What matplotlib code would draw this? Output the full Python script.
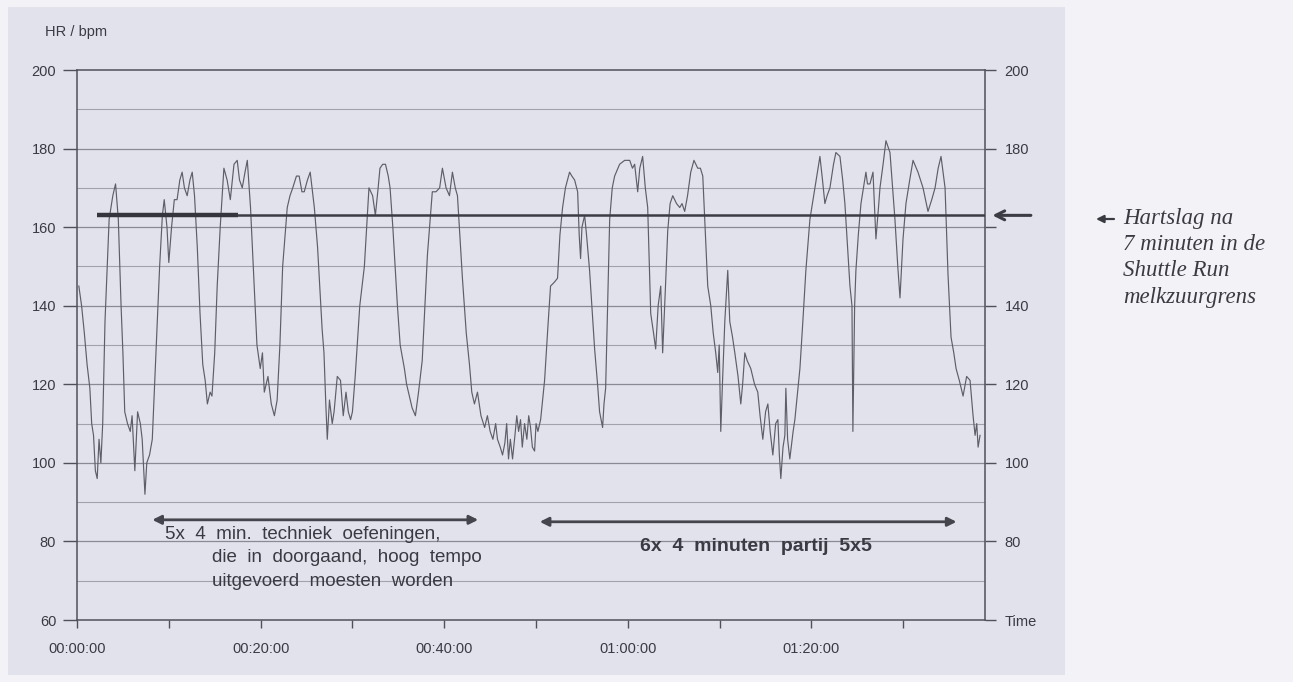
import matplotlib
matplotlib.use("Agg")
import matplotlib.pyplot as plt
from matplotlib.patches import Rectangle, FancyArrowPatch

plt.rcParams['font.family'] = ['Liberation Sans', 'DejaVu Sans']

# heart rate trace (minutes since start, bpm)
minutes = [0.2, 0.5, 0.8, 1.1, 1.4, 1.6, 1.8, 2.0, 2.2, 2.4, 2.6, 2.8, 3.05, 3.5, 3.9, 4.2, 4.5, 4.8, 5.0, 5.2,
           5.5, 5.8, 6.0, 6.3, 6.6, 6.9, 7.1, 7.4, 7.6, 7.9, 8.2, 8.6, 9.0, 9.3, 9.5, 9.8, 10.0, 10.3, 10.6, 10.9,
           11.2, 11.45, 11.7, 12.0, 12.3, 12.55, 12.8, 13.1, 13.4, 13.7, 13.96, 14.2, 14.5, 14.7, 15.0, 15.27, 15.6, 16.0, 16.35, 16.7,
           17.1, 17.45, 17.7, 18.0, 18.3, 18.55, 18.9, 19.3, 19.6, 19.96, 20.2, 20.4, 20.8, 21.16, 21.5, 21.8, 22.1, 22.4, 22.9, 23.2,
           23.5, 23.9, 24.2, 24.5, 24.75, 25.1, 25.4, 25.85, 26.2, 26.7, 26.9, 27.1, 27.26, 27.5, 27.8, 28.0, 28.35, 28.7, 29.0, 29.3,
           29.55, 29.8, 30.0, 30.3, 30.8, 31.3, 31.8, 32.2, 32.5, 32.8, 33.0, 33.3, 33.6, 33.9, 34.1, 34.4, 34.9, 35.2, 35.66, 35.9,
           36.2, 36.5, 36.86, 37.2, 37.6, 38.17, 38.7, 39.1, 39.5, 39.8, 40.2, 40.57, 40.89, 41.2, 41.44, 41.98, 42.4, 42.75, 43.0, 43.29,
           43.62, 44.0, 44.4, 44.7, 45.0, 45.3, 45.6, 45.8, 46.1, 46.35, 46.6, 46.8, 47.0, 47.2, 47.44, 47.7, 47.9, 48.1, 48.31, 48.5,
           48.75, 49.0, 49.2, 49.4, 49.6, 49.84, 50.0, 50.2, 50.5, 50.93, 51.3, 51.58, 52.0, 52.34, 52.6, 52.89, 53.2, 53.65, 53.9, 54.2,
           54.53, 54.7, 54.85, 55.0, 55.29, 55.5, 55.83, 56.38, 56.7, 56.92, 57.25, 57.4, 57.58, 57.8, 58.02, 58.3, 58.56, 59.1, 59.65, 60.2,
           60.5, 60.74, 61.07, 61.3, 61.61, 61.9, 62.16, 62.49, 62.8, 63.03, 63.3, 63.58, 63.79, 64.1, 64.34, 64.6, 64.89, 65.3, 65.65, 65.9,
           66.19, 66.5, 66.85, 67.2, 67.61, 67.9, 68.16, 68.5, 68.7, 69.03, 69.3, 69.57, 69.79, 69.95, 70.12, 70.3, 70.56, 70.88, 71.1, 71.4,
           71.65, 72.0, 72.3, 72.5, 72.74, 73.0, 73.39, 73.8, 74.15, 74.4, 74.7, 75.0, 75.25, 75.5, 75.79, 76.1, 76.34, 76.5, 76.66, 76.9,
           77.1, 77.21, 77.4, 77.64, 78.0, 78.19, 78.74, 79.06, 79.39, 79.83, 80.37, 80.92, 81.2, 81.46, 81.7, 82.01, 82.4, 82.66, 83.1, 83.4,
           83.64, 84.19, 84.41, 84.51, 84.7, 84.84, 85.1, 85.39, 85.93, 86.1, 86.37, 86.7, 87.02, 87.3, 87.46, 87.8, 88.11, 88.55, 89.09, 89.4,
           89.64, 89.97, 90.29, 90.7, 91.06, 91.6, 92.15, 92.69, 93.1, 93.46, 93.8, 94.11, 94.55, 94.87, 95.2, 95.5, 95.75, 96.1, 96.51, 96.9,
           97.27, 97.6, 97.82, 98.0, 98.15, 98.36]
bpm = [145, 140, 133, 125, 119, 110, 107, 98, 96, 106, 100, 110, 136, 162, 168, 171, 162, 140, 128, 113,
       110, 108, 112, 98, 113, 110, 106, 92, 100, 102, 106, 128, 150, 163, 167, 160, 151, 160, 167, 167,
       172, 174, 170, 168, 172, 174, 168, 155, 138, 125, 121, 115, 118, 117, 128, 145, 160, 175, 172, 167,
       176, 177, 172, 170, 174, 177, 165, 145, 130, 124, 128, 118, 122, 115, 112, 116, 130, 150, 165, 168,
       170, 173, 173, 169, 169, 172, 174, 165, 155, 134, 128, 115, 106, 116, 110, 113, 122, 121, 112, 118,
       113, 111, 113, 122, 140, 150, 170, 168, 163, 170, 175, 176, 176, 173, 170, 160, 140, 130, 124, 120,
       117, 114, 112, 118, 126, 153, 169, 169, 170, 175, 170, 168, 174, 170, 168, 147, 133, 125, 118, 115,
       118, 112, 109, 112, 108, 106, 110, 106, 104, 102, 105, 110, 101, 106, 101, 107, 112, 108, 111, 104,
       110, 106, 112, 109, 104, 103, 110, 108, 111, 121, 135, 145, 146, 147, 158, 165, 170, 174, 173, 172,
       169, 158, 152, 160, 163, 158, 149, 129, 120, 113, 109, 115, 119, 140, 162, 170, 173, 176, 177, 177,
       175, 176, 169, 175, 178, 170, 165, 138, 133, 129, 140, 145, 128, 145, 159, 166, 168, 166, 165, 166,
       164, 168, 174, 177, 175, 175, 173, 155, 145, 140, 133, 128, 123, 130, 108, 120, 136, 149, 136, 132,
       128, 122, 115, 120, 128, 126, 124, 120, 118, 112, 106, 113, 115, 108, 102, 110, 111, 102, 96, 104,
       107, 119, 106, 101, 108, 111, 124, 136, 149, 162, 170, 178, 172, 166, 168, 170, 176, 179, 178, 172,
       166, 145, 140, 108, 140, 149, 158, 166, 174, 171, 171, 174, 157, 165, 170, 176, 182, 179, 162, 150,
       142, 157, 166, 172, 177, 174, 170, 164, 167, 170, 175, 178, 170, 148, 132, 128, 124, 121, 117, 122,
       121, 112, 107, 110, 104, 107]

# lactate threshold from the shuttle run
threshold = 163
thr_start = 2.2
thr_thick_end = 17.5

y_ticks = [60, 80, 100, 120, 140, 160, 180, 200]
y_grid = [70, 90, 110, 130, 150, 170, 190]
right_labels = ['Time', '80', '100', '120', '140', '', '180', '200']
x_major = [0, 20, 40, 60, 80]
x_minor = [10, 30, 50, 70, 90]
x_labels = ['00:00:00', '00:20:00', '00:40:00', '01:00:00', '01:20:00']

# phase arrows (start min, end min, bpm level)
phase1 = (8.2, 43.7, 85.5)
phase2 = (50.4, 95.8, 85.0)
phase1_text = ['5x  4  min.  techniek  oefeningen,', 'die  in  doorgaand,  hoog  tempo', 'uitgevoerd  moesten  worden']
phase2_text = '6x  4  minuten  partij  5x5'
note_lines = ['Hartslag na', '7 minuten in de', 'Shuttle Run', 'melkzuurgrens']

ink = '#3a3a42'
W, H = 1293, 682
fig = plt.figure(figsize=(W / 100, H / 100), dpi=100)
fig.patch.set_facecolor('#f3f3f7')
fig.patches.append(Rectangle((8 / W, 7 / H), 1057 / W, 668 / H, transform=fig.transFigure,
                             facecolor='#e2e2ec', edgecolor='none', zorder=-10))

ax = fig.add_axes([77 / W, 62 / H, 908 / W, 550 / H])
ax.set_facecolor('none')
ax.set_xlim(0, 98.9)
ax.set_ylim(60, 200)

for g in y_ticks[1:-1]:
    ax.axhline(g, color='#8a8a94', lw=0.9, zorder=1)
for g in y_grid:
    ax.axhline(g, color='#a2a2ad', lw=0.8, zorder=1)

ax.plot(minutes, bpm, color='#5e5e68', lw=0.85, zorder=3)

ax.plot([thr_start, thr_thick_end], [threshold, threshold], color='#35353d', lw=3.2, solid_capstyle='butt', zorder=4)
ax.plot([thr_thick_end, 98.9], [threshold, threshold], color='#3c3c44', lw=1.8, zorder=4)
ax.annotate('', xy=(99.4, threshold), xytext=(104.2, threshold), annotation_clip=False,
            arrowprops=dict(arrowstyle='->', lw=2.2, color='#3c3c44', mutation_scale=16))

for spine in ax.spines.values():
    spine.set_color('#50505a')
    spine.set_linewidth(1.1)

ax.set_yticks(y_ticks)
ax.tick_params(axis='y', direction='out', length=10, width=1, color='#50505a', labelsize=10.5, labelcolor=ink, pad=5)
ax.set_xticks(x_major)
ax.set_xticklabels(x_labels)
ax.set_xticks(x_minor, minor=True)
ax.tick_params(axis='x', which='both', direction='out', length=6, width=1, color='#50505a', labelsize=10.5,
               labelcolor=ink, pad=10)

ax2 = ax.twinx()
ax2.set_ylim(60, 200)
ax2.set_yticks(y_ticks)
ax2.set_yticklabels(right_labels)
ax2.tick_params(axis='y', direction='out', length=8, width=1, color='#50505a', labelsize=10.5, labelcolor=ink, pad=6)
for spine in ax2.spines.values():
    spine.set_visible(False)

fig.text(45 / W, 1 - 32 / H, 'HR / bpm', fontsize=10.5, color=ink, va='center')

for start, end, level in [phase1, phase2]:
    ax.annotate('', xy=(start, level), xytext=(end, level),
                arrowprops=dict(arrowstyle='<|-|>', lw=2, color='#45454d', mutation_scale=13, shrinkA=0, shrinkB=0))

ax.text(9.6, 81.7, phase1_text[0], fontsize=13.5, color=ink, va='center')
ax.text(14.7, 75.8, phase1_text[1], fontsize=13.5, color=ink, va='center')
ax.text(14.7, 69.7, phase1_text[2], fontsize=13.5, color=ink, va='center')
ax.text(73.9, 78.6, phase2_text, fontsize=14, fontweight='bold', color=ink, va='center', ha='center')

fig.patches.append(FancyArrowPatch((1114 / W, 1 - 219 / H), (1096 / W, 1 - 219 / H),
                                   transform=fig.transFigure, arrowstyle='-|>', shrinkA=0, shrinkB=0,
                                   mutation_scale=11, lw=1.6, color=ink))
for i, line in enumerate(note_lines):
    fig.text(1123 / W, 1 - (219 + 26 * i) / H, line, fontsize=16.5, style='italic', color=ink, va='center',
             family=['Liberation Serif', 'DejaVu Serif'])

fig.savefig('out.png', dpi=100, facecolor=fig.get_facecolor())
